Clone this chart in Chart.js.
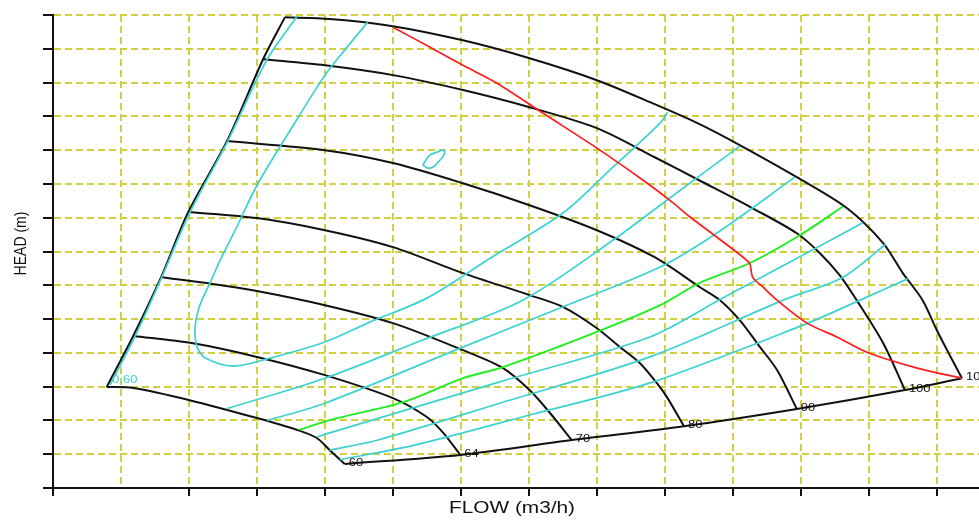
<!DOCTYPE html>
<html>
<head>
<meta charset="utf-8">
<script src="https://cdn.jsdelivr.net/npm/chart.js@4.4.1/dist/chart.umd.min.js"></script>
<style>
  html, body { margin: 0; padding: 0; background: #fff; }
  #wrap { width: 979px; height: 521px; }
</style>
</head>
<body>
<div id="wrap"><canvas id="chart"></canvas></div>
<script>
const xTitle = 'FLOW (m3/h)';
const yTitle = 'HEAD (m)';

// speed curves (flow, head), top one first
const speedLabels = ['104', '100', '90', '80', '70', '64', '60'];
const speed104 = [[34.1,139.3],[40.7,138.8],[50.0,136.7],[60.3,132.5],[70.1,127.2],[80.0,120.7],[88.5,113.6],[95.1,107.7],[101.0,101.5],[109.4,92.0],[116.8,82.8],[122.1,72.5],[125.0,63.6],[127.9,55.6],[130.0,46.7],[131.9,39.3],[133.7,32.5]];
const speed100 = [[30.9,126.9],[40.0,125.1],[50.0,122.2],[60.3,117.8],[70.1,112.7],[80.0,106.5],[88.5,97.9],[95.6,90.5],[102.9,82.8],[109.4,75.4],[112.8,69.5],[115.7,63.0],[118.2,55.6],[122.1,42.9],[125.3,29.0]];
const speed90 = [[25.6,102.7],[40.0,100.0],[50.0,96.2],[60.3,90.2],[70.1,83.7],[80.0,76.3],[88.5,68.3],[95.1,59.5],[98.1,55.6],[101.0,49.7],[104.0,41.7],[106.5,34.9],[109.4,23.4]];
const speed80 = [[19.9,81.7],[30.0,79.9],[40.0,76.3],[50.0,71.3],[60.3,63.6],[70.1,57.1],[75.0,53.6],[80.0,47.3],[83.4,41.7],[86.3,37.0],[88.8,31.1],[90.3,26.9],[92.8,18.3]];
const speed70 = [[15.9,62.4],[23.5,60.4],[30.0,58.3],[40.0,54.1],[50.0,48.8],[60.3,40.8],[66.2,35.5],[70.1,29.0],[73.1,22.2],[76.3,14.2]];
const speed64 = [[11.8,45.0],[20.4,42.9],[30.0,38.8],[40.0,33.4],[50.0,26.6],[55.0,21.0],[57.4,16.3],[59.9,9.8]];
const speed60 = [[7.9,29.9],[11.8,29.6],[20.1,26.0],[30.0,20.7],[35.9,17.2],[38.8,14.8],[40.7,11.2],[42.9,7.1]];

// map limits
const minFlowEdge = [[7.9,29.9],[11.8,45.0],[15.9,62.4],[19.9,81.7],[25.6,102.7],[30.9,126.9],[34.1,139.3]];
const maxFlowEdge = [[42.9,7.1],[59.9,9.8],[76.3,14.2],[92.8,18.3],[109.4,23.4],[125.3,29.0],[133.7,32.5]];

// efficiency contours
const effLabel = '0.60';
const effOuter = [[35.9,139.6],[31.5,126.9],[25.7,102.7],[20.1,81.4],[16.0,62.4],[12.1,45.0],[8.4,30.5]];
const effLoop = [[46.3,137.9],[42.9,129.6],[40.0,122.2],[34.9,105.9],[30.0,89.6],[26.8,76.3],[24.6,67.5],[23.1,60.7],[21.6,54.1],[20.9,47.6],[21.2,41.7],[22.4,38.5],[26.5,36.1],[31.5,38.2],[40.0,43.2],[46.6,49.1],[55.0,56.2],[64.3,68.0],[75.0,81.4],[81.9,94.1],[89.3,108.0],[90.4,111.2]];
const effIsland = [[54.4,95.6],[55.4,98.5],[56.5,99.4],[57.4,100.0],[57.6,99.1],[56.9,97.0],[55.9,95.0],[55.1,94.7],[54.4,95.6]];
const effB = [[25.6,23.5],[40.0,32.5],[54.0,43.5],[69.1,55.6],[82.4,73.4],[89.3,83.7],[101.0,101.2]];
const effC = [[31.5,20.0],[40.0,25.1],[59.9,41.4],[74.6,53.3],[89.3,65.4],[97.6,75.4],[109.1,92.0]];
const effD = [[38.8,15.1],[40.7,16.3],[65.7,31.4],[87.8,44.7],[98.5,56.2],[108.4,66.9],[119.1,78.5]];
const effE = [[40.7,11.2],[47.8,14.2],[65.7,25.1],[87.8,38.8],[107.4,55.6],[116.2,62.4],[122.4,72.0]];
const effF = [[42.2,8.4],[53.2,12.7],[70.1,21.6],[87.8,31.1],[110.3,48.2],[118.7,55.6],[125.7,61.9]];

// best efficiency line and red limit line
const bepLine = [[36.3,17.2],[40.7,20.1],[51.5,25.4],[60.3,32.5],[66.2,35.8],[80.0,46.2],[89.3,54.1],[95.1,60.7],[102.5,66.6],[109.9,74.9],[116.2,83.3]];
const limitLine = [[50.0,136.4],[55.4,130.5],[60.3,125.1],[65.3,119.8],[72.1,110.9],[80.0,100.6],[86.8,91.1],[90.7,85.2],[93.7,80.2],[97.6,74.3],[101.5,68.3],[102.5,66.3],[102.9,62.4],[104.4,59.5],[106.5,55.6],[110.9,48.8],[115.3,44.7],[119.7,40.2],[127.1,35.5],[133.7,32.5]];

const speedCurves = [speed104, speed100, speed90, speed80, speed70, speed64, speed60];
const effCurves = [effOuter, effLoop, effIsland, effB, effC, effD, effE, effF];

const gridColor = '#d0d040';
const BLACK = '#111111';
const CYAN = '#3cd2d2';

function line(points, color, width) {
    return {
        data: points.map(p => ({x: p[0], y: p[1]})),
        borderColor: color,
        backgroundColor: color,
        borderWidth: width,
        showLine: true,
        pointRadius: 0,
        tension: 0.3,
        fill: false
    };
}

// first dataset ends up on top
var datasets = [];
datasets.push(line(limitLine, '#ff1c1c', 1.7));
datasets.push(line(bepLine, '#1fee1f', 1.9));
effCurves.forEach(c => datasets.push(line(c, CYAN, 1.7)));
speedCurves.forEach(c => datasets.push(line(c, BLACK, 2)));
datasets.push(line(minFlowEdge, BLACK, 2));
datasets.push(line(maxFlowEdge, BLACK, 2));

function stretchText(ctx, text, x, y, sx, align) {
    ctx.save();
    ctx.translate(x, y);
    ctx.scale(sx, 1);
    ctx.textAlign = align;
    ctx.fillText(text, 0, 0);
    ctx.restore();
}

const mapLabels = {
    id: 'mapLabels',
    afterDatasetsDraw(chart) {
        const {ctx, scales: {x, y}} = chart;
        ctx.save();
        ctx.font = '10px "Liberation Sans", Arial, sans-serif';
        ctx.textBaseline = 'middle';
        ctx.fillStyle = BLACK;
        speedCurves.forEach((pts, i) => {
            const end = pts[pts.length - 1];
            stretchText(ctx, speedLabels[i], x.getPixelForValue(end[0]) + 4, y.getPixelForValue(end[1]) - 1, 1.3, 'left');
        });
        const e = effOuter[effOuter.length - 1];
        ctx.fillStyle = CYAN;
        ctx.textBaseline = 'bottom';
        stretchText(ctx, effLabel, x.getPixelForValue(e[0]) + 2, y.getPixelForValue(e[1]), 1.3, 'left');
        ctx.restore();
    },
    afterDraw(chart) {
        const {ctx, chartArea: a} = chart;
        ctx.save();
        ctx.fillStyle = '#111';
        ctx.textBaseline = 'middle';
        ctx.font = '16px "Liberation Sans", Arial, sans-serif';
        stretchText(ctx, xTitle, (a.left + a.right) / 2 - 4, a.bottom + 21, 1.3, 'center');
        ctx.translate(a.left - 32, (a.top + a.bottom) / 2 - 8);
        ctx.rotate(-Math.PI / 2);
        ctx.scale(1, 1.2);
        ctx.font = '14px "Liberation Sans", Arial, sans-serif';
        ctx.textAlign = 'center';
        ctx.fillText(yTitle, 0, 0);
        ctx.restore();
    }
};

const CHART = document.getElementById('chart');

const chart = new Chart(CHART, {
    type: 'scatter',
    data: { datasets: datasets },
    plugins: [mapLabels],
    options: {
        responsive: true,
        maintainAspectRatio: false,
        animation: false,
        layout: { padding: { left: 43, right: 0, top: 15, bottom: 25 } },
        plugins: {
            legend: { display: false },
            tooltip: { enabled: false }
        },
        scales: {
            x: {
                type: 'linear',
                min: 0,
                max: 136.2,
                ticks: { display: false, stepSize: 10, includeBounds: false },
                grid: {
                    color: gridColor,
                    lineWidth: 2,
                    tickLength: 8,
                    tickWidth: 2,
                    tickColor: c => (c.tick && c.tick.value === 10) ? 'rgba(0,0,0,0)' : BLACK
                },
                border: { color: BLACK, width: 2, dash: [7, 4] }
            },
            y: {
                type: 'linear',
                min: 0,
                max: 140,
                ticks: { display: false, stepSize: 10 },
                grid: {
                    color: gridColor,
                    lineWidth: 2,
                    tickLength: 10,
                    tickWidth: 2,
                    tickColor: BLACK
                },
                border: { color: BLACK, width: 2, dash: [7, 4] }
            }
        }
    }
});
</script>
</body>
</html>
